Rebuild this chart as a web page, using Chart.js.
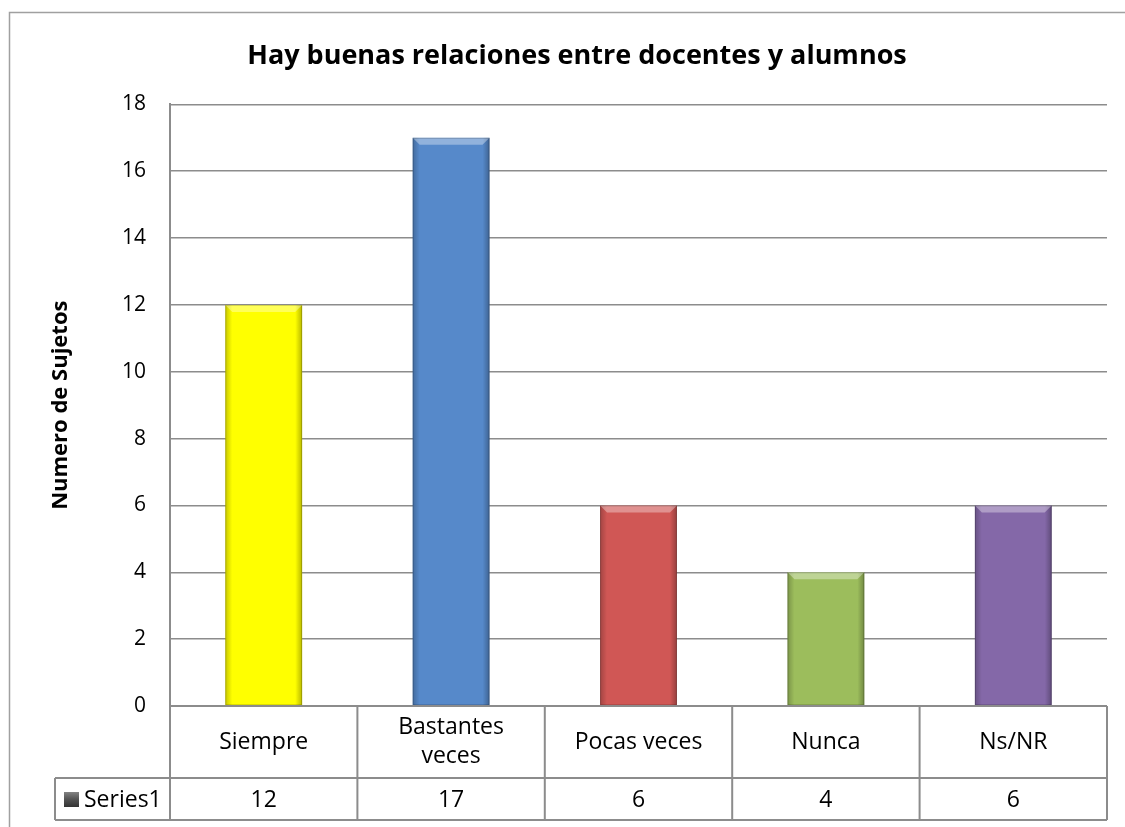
<!DOCTYPE html>
<html>
<head>
<meta charset="utf-8">
<script src="https://cdn.jsdelivr.net/npm/chart.js@4"></script>
<style>
  html, body { margin: 0; padding: 0; background: #fff; }
  #wrap { width: 1125px; height: 827px; position: relative; }
</style>
</head>
<body>
<div id="wrap"><canvas id="grafico"></canvas></div>
<script>
// datos del grafico
const categorias = ['Siempre', ['Bastantes', 'veces'], 'Pocas veces', 'Nunca', 'Ns/NR'];
const serie1 = [12, 17, 6, 4, 6];
const colores = ['#FFFF00', '#5689CA', '#D05755', '#9CBD5C', '#8468A8'];
const ticksY = [0, 2, 4, 6, 8, 10, 12, 14, 16, 18];
const nombreSerie = 'Series1';

const GRIS = '#8c8c8c';

// borde exterior + biselado de barras + tabla de datos
const tablaDatos = {
    id: 'tablaDatos',
    beforeDraw(chart) {
        const ctx = chart.ctx;
        ctx.save();
        ctx.strokeStyle = '#a0a0a0';
        ctx.lineWidth = 1.5;
        ctx.strokeRect(9.5, 12.5, 1300, 1000);
        ctx.restore();
    },
    afterDatasetsDraw(chart) {
        const ctx = chart.ctx;
        const meta = chart.getDatasetMeta(0);
        ctx.save();
        meta.data.forEach(bar => {
            const l = bar.x - bar.width / 2, r = bar.x + bar.width / 2;
            const t = bar.y, b = bar.base;
            const bv = 7;
            // lados mas oscuros
            let g = ctx.createLinearGradient(l, 0, r, 0);
            g.addColorStop(0, 'rgba(0,0,0,0.22)');
            g.addColorStop(0.09, 'rgba(0,0,0,0.0)');
            g.addColorStop(0.91, 'rgba(0,0,0,0.0)');
            g.addColorStop(1, 'rgba(0,0,0,0.28)');
            ctx.fillStyle = g;
            ctx.fillRect(l, t, r - l, b - t);
            // borde superior claro
            ctx.beginPath();
            ctx.moveTo(l, t);
            ctx.lineTo(r, t);
            ctx.lineTo(r - bv, t + bv);
            ctx.lineTo(l + bv, t + bv);
            ctx.closePath();
            ctx.fillStyle = 'rgba(255,255,255,0.35)';
            ctx.fill();
            ctx.strokeStyle = 'rgba(0,0,0,0.18)';
            ctx.lineWidth = 1;
            ctx.strokeRect(l + 0.5, t + 0.5, r - l - 1, b - t - 1);
        });
        ctx.restore();
    },
    afterDraw(chart) {
        const ctx = chart.ctx;
        const area = chart.chartArea;
        const xs = chart.scales.x;
        const n = categorias.length;
        const ancho = (area.right - area.left) / n;
        const fila1 = area.bottom + 72;
        const fila2 = fila1 + 42;
        const izq = 55;
        ctx.save();
        ctx.strokeStyle = GRIS;
        ctx.lineWidth = 2;
        ctx.beginPath();
        ctx.moveTo(area.left, area.bottom); ctx.lineTo(area.right, area.bottom);
        ctx.moveTo(izq, fila1); ctx.lineTo(area.right, fila1);
        ctx.moveTo(izq, fila2); ctx.lineTo(area.right, fila2);
        ctx.moveTo(izq, fila1); ctx.lineTo(izq, fila2);
        for (let i = 0; i <= n; i++) {
            const x = area.left + i * ancho;
            ctx.moveTo(x, area.bottom); ctx.lineTo(x, fila2);
        }
        ctx.stroke();

        ctx.fillStyle = '#000';
        ctx.font = '23px "Open Sans"';
        ctx.textAlign = 'center';
        ctx.textBaseline = 'middle';
        categorias.forEach((c, i) => {
            const cx = xs.getPixelForValue(i);
            const lineas = Array.isArray(c) ? c : [c];
            const mid = (area.bottom + fila1) / 2;
            lineas.forEach((ln, k) => {
                ctx.fillText(ln, cx, mid + (k - (lineas.length - 1) / 2) * 29);
            });
            ctx.fillText(String(serie1[i]), cx, (fila1 + fila2) / 2 + 1);
        });
        // clave de la serie
        const ky = (fila1 + fila2) / 2;
        const g = ctx.createLinearGradient(0, ky - 8, 0, ky + 8);
        g.addColorStop(0, '#8a8a8a');
        g.addColorStop(0.5, '#555');
        g.addColorStop(1, '#333');
        ctx.fillStyle = g;
        ctx.fillRect(64, ky - 7, 15, 15);
        ctx.fillStyle = '#000';
        ctx.textAlign = 'left';
        ctx.fillText(nombreSerie, 84, ky + 1);
        ctx.restore();
    }
};

new Chart(document.getElementById('grafico'), {
    type: 'bar',
    data: {
        labels: categorias,
        datasets: [{
            label: nombreSerie,
            data: serie1,
            backgroundColor: colores,
            borderWidth: 0,
            categoryPercentage: 1,
            barPercentage: 0.41
        }]
    },
    options: {
        responsive: true,
        maintainAspectRatio: false,
        animation: false,
        layout: { padding: { left: 47, right: 18, top: 0, bottom: 121 } },
        plugins: {
            legend: { display: false },
            tooltip: { enabled: false },
            title: {
                display: true,
                text: 'Hay buenas relaciones entre docentes y alumnos',
                color: '#000',
                font: { family: 'Open Sans', size: 27, weight: 'bold' },
                padding: { top: 40, bottom: 32 }
            }
        },
        scales: {
            x: { display: false },
            y: {
                min: 0,
                max: 18,
                afterBuildTicks: s => { s.ticks = ticksY.map(v => ({ value: v })); },
                afterFit: s => { s.width = 123; },
                grid: { color: GRIS, lineWidth: 1.5, drawTicks: false },
                border: { display: true, color: GRIS, width: 2 },
                ticks: {
                    color: '#000',
                    padding: 24,
                    font: { family: 'Open Sans', size: 21 }
                },
                title: {
                    display: true,
                    text: 'Numero de Sujetos',
                    color: '#000',
                    font: { family: 'Open Sans', size: 22, weight: 'bold' },
                    padding: { top: 1, bottom: 0 }
                }
            }
        }
    },
    plugins: [tablaDatos]
});
</script>
</body>
</html>
